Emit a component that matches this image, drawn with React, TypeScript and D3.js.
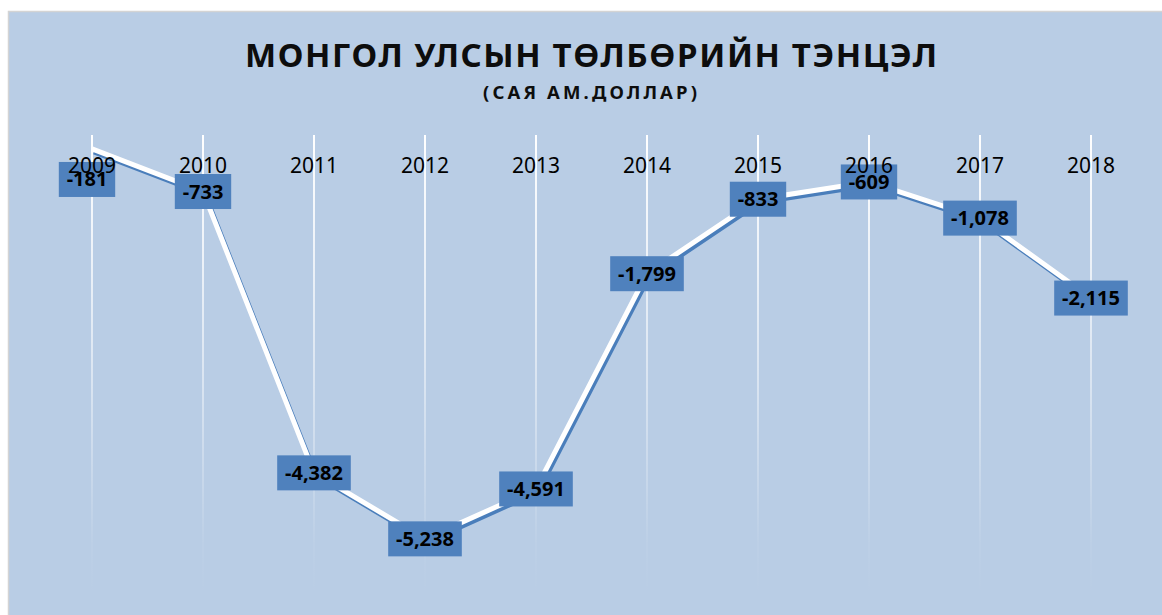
import React from 'react';
import * as d3 from 'd3';

const years = ['2009', '2010', '2011', '2012', '2013', '2014', '2015', '2016', '2017', '2018'];
const balance = [-181, -733, -4382, -5238, -4591, -1799, -833, -609, -1078, -2115];
const yDomain = [-6000, 0];
const titleText = 'МОНГОЛ УЛСЫН ТӨЛБӨРИЙН ТЭНЦЭЛ';
const subtitleText = '(САЯ АМ.ДОЛЛАР)';

const W = 1162;
const H = 615;

const locale = d3.formatLocale({ decimal: '.', thousands: ',', grouping: [3], currency: ['$', ''], minus: '-' });

export default function App() {
  const x = d3.scalePoint<string>().domain(years).range([92, 1091]);
  const y = d3.scaleLinear().domain(yDomain).range([597.6, 135]);
  const fmt = locale.format(',');
  const pts = years.map((yr, i) => ({ yr, v: balance[i], px: x(yr) as number, py: y(balance[i]) }));
  const line = d3.line<{ px: number; py: number }>().x(d => d.px).y(d => d.py);
  const path = line(pts) || '';
  const top = y(0);
  const bottom = y(yDomain[0]);
  const font = "'Noto Sans', 'Open Sans', sans-serif";
  const boxH = 35;

  return (
    <svg width={W} height={H} style={{ position: 'absolute', left: 0, top: 0 }}>
      <defs>
        <linearGradient id="gridFade" gradientUnits="userSpaceOnUse" x1="0" y1={top} x2="0" y2={bottom}>
          <stop offset="0" stopColor="#ffffff" stopOpacity={1} />
          <stop offset="0.55" stopColor="#ffffff" stopOpacity={0.45} />
          <stop offset="0.88" stopColor="#ffffff" stopOpacity={0.05} />
          <stop offset="1" stopColor="#ffffff" stopOpacity={0} />
        </linearGradient>
      </defs>
      <rect x={0} y={0} width={W} height={H} fill="#ffffff" />
      <rect x={8.5} y={11.5} width={W} height={H} fill="#b9cde5" stroke="#d4d4d4" strokeWidth={1.5} />
      <text x={591} y={67} textAnchor="middle" fontFamily={font} fontWeight="bold" fontSize={33}
        textLength={692} lengthAdjust="spacing" fill="#0d0d0d">{titleText}</text>
      <text x={590} y={99} textAnchor="middle" fontFamily={font} fontWeight="bold" fontSize={18.5}
        textLength={214} lengthAdjust="spacing" fill="#0d0d0d">{subtitleText}</text>
      {years.map(yr => (
        <rect key={'g' + yr} x={(x(yr) as number) - 1} y={top} width={2} height={bottom - top} fill="url(#gridFade)" />
      ))}
      <path d={path} fill="none" stroke="#4a7ebb" strokeWidth={5} strokeLinejoin="round" transform="translate(2,3)" />
      <path d={path} fill="none" stroke="#ffffff" strokeWidth={5} strokeLinejoin="round" />
      {pts.map(p => {
        const label = fmt(p.v);
        const bw = 8.6 * label.length + 22;
        let by = p.py - boxH / 2;
        let cx = p.px;
        if (by < top) { by = p.py + 13; cx = p.px - 5; }
        return (
          <g key={'l' + p.yr}>
            <rect x={cx - bw / 2} y={by} width={bw} height={boxH} fill="#4f81bd" />
            <text x={cx} y={by + boxH / 2 + 7} textAnchor="middle" fontFamily={font} fontWeight="bold" fontSize={20} fill="#000000">{label}</text>
          </g>
        );
      })}
      {years.map(yr => (
        <text key={'t' + yr} x={x(yr) as number} y={173} textAnchor="middle" fontFamily={font} fontSize={21} fill="#000000">{yr}</text>
      ))}
    </svg>
  );
}
